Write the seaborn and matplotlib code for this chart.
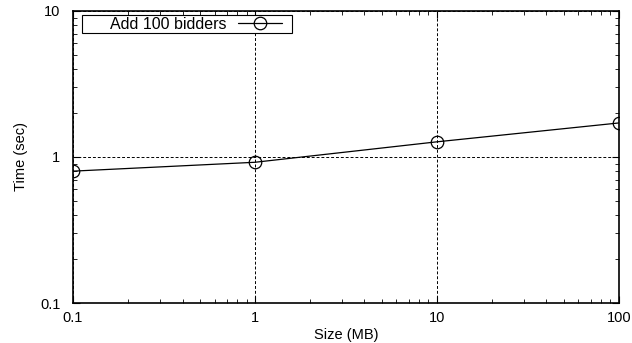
import matplotlib
matplotlib.use("Agg")
import matplotlib.pyplot as plt
import pandas as pd
import seaborn as sns
from matplotlib.patches import Rectangle
from matplotlib.ticker import LogLocator, FixedLocator, FixedFormatter, NullFormatter

size_mb = [0.1, 1, 10, 100]
time_sec = [0.80, 0.92, 1.27, 1.71]
series = "Add 100 bidders"

d = pd.DataFrame({"Size (MB)": size_mb, "Time (sec)": time_sec, "s": series})

sns.set_style("ticks")
plt.rcParams["font.family"] = ["Liberation Sans", "DejaVu Sans"]
plt.rcParams["text.color"] = "black"
plt.rcParams["axes.labelcolor"] = "black"
plt.rcParams["xtick.color"] = "black"
plt.rcParams["ytick.color"] = "black"

fig = plt.figure(figsize=(6.32, 3.43), dpi=100)
ax = fig.add_axes([0.1155, 0.1166, 0.8635, 0.8514])

sns.lineplot(
    data=d, x="Size (MB)", y="Time (sec)", hue="s", palette=["black"],
    marker="o", markersize=9, markerfacecolor="none", markeredgecolor="black",
    markeredgewidth=0.9, linewidth=0.9, ax=ax, legend=True
)

ax.set_xscale("log")
ax.set_yscale("log")
ax.set_xlim(0.1, 100)
ax.set_ylim(0.1, 10)

ax.xaxis.set_major_locator(FixedLocator(size_mb))
ax.xaxis.set_major_formatter(FixedFormatter(["0.1", "1", "10", "100"]))
ax.yaxis.set_major_locator(FixedLocator([0.1, 1, 10]))
ax.yaxis.set_major_formatter(FixedFormatter(["0.1", "1", "10"]))
ax.xaxis.set_minor_locator(LogLocator(base=10, subs=range(2, 10)))
ax.yaxis.set_minor_locator(LogLocator(base=10, subs=range(2, 10)))
ax.xaxis.set_minor_formatter(NullFormatter())
ax.yaxis.set_minor_formatter(NullFormatter())

ax.tick_params(which="both", direction="in", top=True, right=True,
               color="black", labelcolor="black", labelsize=10.5)
ax.tick_params(which="major", length=5, width=0.8)
ax.tick_params(which="minor", length=3, width=0.6)
ax.tick_params(axis="x", pad=6)
ax.tick_params(axis="y", pad=9)

ax.grid(True, which="major", color="black", linestyle=(0, (3, 2)), linewidth=0.7)

for s in ax.spines.values():
    s.set_color("black")
    s.set_linewidth(1.2)

ax.set_xlabel("Size (MB)", fontsize=10.5, labelpad=2)
ax.set_ylabel("Time (sec)", fontsize=10.5, labelpad=9)

# legend: text first, then the line/marker sample, in a box wider on the left
h, l = ax.get_legend_handles_labels()
ax.get_legend().remove()
frame = Rectangle((82, 343 - 33), 292 - 82, 18, transform=None,
                  facecolor="white", edgecolor="black", linewidth=0.8)
fig.patches.append(frame)
frame.set_figure(fig)
leg = fig.legend(h, [series], loc="upper left", markerfirst=False, fontsize=11.5,
                 frameon=False, borderpad=0.0, handlelength=2.8,
                 handletextpad=0.7, borderaxespad=0.0,
                 bbox_to_anchor=(110 / 632, 1 - 17 / 343))

fig.savefig("out.png", dpi=100)
